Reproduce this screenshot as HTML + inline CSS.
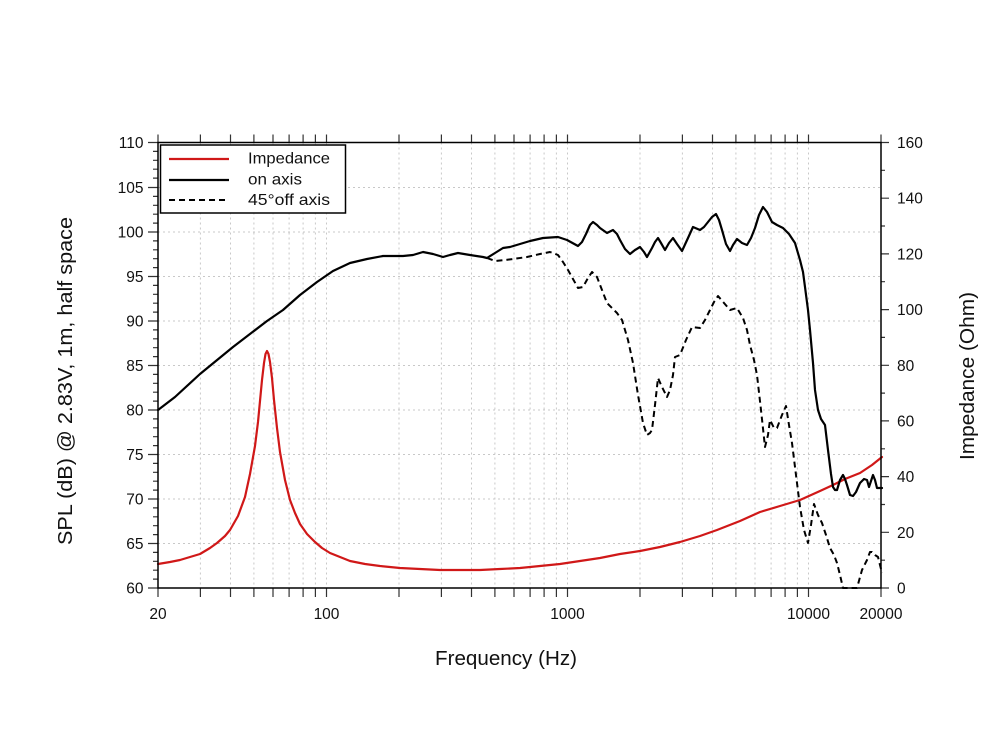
<!DOCTYPE html>
<html><head><meta charset="utf-8"><style>
html,body{margin:0;padding:0;background:#fff;}
svg{display:block;}
text{font-family:"Liberation Sans","DejaVu Sans",sans-serif;fill:#111;}
</style></head><body>
<svg width="1000" height="749" viewBox="0 0 1000 749" xmlns="http://www.w3.org/2000/svg">
<rect x="0" y="0" width="1000" height="749" fill="#fff"/>
<!-- grid -->
<g stroke="#c8c8c8" stroke-width="1" stroke-dasharray="2,3" fill="none">
<line x1="200.4" y1="142.5" x2="200.4" y2="588"/><line x1="230.5" y1="142.5" x2="230.5" y2="588"/>
<line x1="253.9" y1="142.5" x2="253.9" y2="588"/><line x1="273" y1="142.5" x2="273" y2="588"/>
<line x1="289.1" y1="142.5" x2="289.1" y2="588"/><line x1="303.1" y1="142.5" x2="303.1" y2="588"/>
<line x1="315.4" y1="142.5" x2="315.4" y2="588"/><line x1="326.5" y1="142.5" x2="326.5" y2="588"/>
<line x1="399" y1="142.5" x2="399" y2="588"/><line x1="441.4" y1="142.5" x2="441.4" y2="588"/>
<line x1="471.5" y1="142.5" x2="471.5" y2="588"/><line x1="494.9" y1="142.5" x2="494.9" y2="588"/>
<line x1="514" y1="142.5" x2="514" y2="588"/><line x1="530.1" y1="142.5" x2="530.1" y2="588"/>
<line x1="544.1" y1="142.5" x2="544.1" y2="588"/><line x1="556.4" y1="142.5" x2="556.4" y2="588"/>
<line x1="567.5" y1="142.5" x2="567.5" y2="588"/><line x1="640" y1="142.5" x2="640" y2="588"/>
<line x1="682.4" y1="142.5" x2="682.4" y2="588"/><line x1="712.5" y1="142.5" x2="712.5" y2="588"/>
<line x1="735.9" y1="142.5" x2="735.9" y2="588"/><line x1="755" y1="142.5" x2="755" y2="588"/>
<line x1="771.1" y1="142.5" x2="771.1" y2="588"/><line x1="785.1" y1="142.5" x2="785.1" y2="588"/>
<line x1="797.4" y1="142.5" x2="797.4" y2="588"/><line x1="808.5" y1="142.5" x2="808.5" y2="588"/>
<line x1="158" y1="543.5" x2="881" y2="543.5"/><line x1="158" y1="499" x2="881" y2="499"/>
<line x1="158" y1="454.5" x2="881" y2="454.5"/><line x1="158" y1="410" x2="881" y2="410"/>
<line x1="158" y1="365.5" x2="881" y2="365.5"/><line x1="158" y1="321" x2="881" y2="321"/>
<line x1="158" y1="276.5" x2="881" y2="276.5"/><line x1="158" y1="232" x2="881" y2="232"/>
<line x1="158" y1="187.5" x2="881" y2="187.5"/>
</g>
<!-- ticks -->
<g stroke="#333" stroke-width="1.2" fill="none">
<!-- bottom & top x ticks -->
<path d="M158 588v9M200.4 588v9M230.5 588v9M253.9 588v9M273 588v9M289.1 588v9M303.1 588v9M315.4 588v9M326.5 588v9M399 588v9M441.4 588v9M471.5 588v9M494.9 588v9M514 588v9M530.1 588v9M544.1 588v9M556.4 588v9M567.5 588v9M640 588v9M682.4 588v9M712.5 588v9M735.9 588v9M755 588v9M771.1 588v9M785.1 588v9M797.4 588v9M808.5 588v9M881 588v9"/>
<path d="M158 142.5v-8M200.4 142.5v-8M230.5 142.5v-8M253.9 142.5v-8M273 142.5v-8M289.1 142.5v-8M303.1 142.5v-8M315.4 142.5v-8M326.5 142.5v-8M399 142.5v-8M441.4 142.5v-8M471.5 142.5v-8M494.9 142.5v-8M514 142.5v-8M530.1 142.5v-8M544.1 142.5v-8M556.4 142.5v-8M567.5 142.5v-8M640 142.5v-8M682.4 142.5v-8M712.5 142.5v-8M735.9 142.5v-8M755 142.5v-8M771.1 142.5v-8M785.1 142.5v-8M797.4 142.5v-8M808.5 142.5v-8M881 142.5v-8"/>
<!-- left major -->
<path d="M148 142.5h10M148 187.5h10M148 232h10M148 276.5h10M148 321h10M148 365.5h10M148 410h10M148 454.5h10M148 499h10M148 543.5h10M148 588h10"/>
<!-- left minor every 1 dB -->
<path d="M153 151.4h5M153 160.3h5M153 169.2h5M153 178.1h5M153 196.4h5M153 205.3h5M153 214.2h5M153 223.1h5M153 240.9h5M153 249.8h5M153 258.7h5M153 267.6h5M153 285.4h5M153 294.3h5M153 303.2h5M153 312.1h5M153 329.9h5M153 338.8h5M153 347.7h5M153 356.6h5M153 374.4h5M153 383.3h5M153 392.2h5M153 401.1h5M153 418.9h5M153 427.8h5M153 436.7h5M153 445.6h5M153 463.4h5M153 472.3h5M153 481.2h5M153 490.1h5M153 507.9h5M153 516.8h5M153 525.7h5M153 534.6h5M153 552.4h5M153 561.3h5M153 570.2h5M153 579.1h5"/>
<!-- right major & minor -->
<path d="M881 588h8M881 532.3h8M881 476.6h8M881 420.9h8M881 365.3h8M881 309.6h8M881 253.9h8M881 198.2h8M881 142.5h8"/>
<path d="M881 560.2h4M881 504.5h4M881 448.8h4M881 393.1h4M881 337.4h4M881 281.7h4M881 226h4M881 170.3h4"/>
</g>
<!-- curves -->
<g fill="none" stroke-linejoin="round" stroke-linecap="round">
<polyline stroke="#d01818" stroke-width="2.2" points="158,564 170,562 180,560 190,557 200,554 210,548 217,543 225,536 230,530 238,516 245,497 250,474 255,446 258,422 260,401 262,380 264,363 265.5,354 267,351 268.5,354 270,362 272,378 274,400 277,428 280,452 285,480 290,500 295,513 300,524 307,534 315,542 322,548 330,553 340,557 350,561 365,564 380,566 400,568 420,569 440,570 460,570 480,570 500,569 520,568 540,566 560,564 580,561 600,558 620,554 640,551 660,547 680,542 700,536 717,530 740,521 760,512 780,506 800,500 820,491 833,485 845,479 860,473 872,465 882,457"/>
<polyline stroke="#000" stroke-width="2.2" points="158,410 175,397 200,374 233,347 267,321 283,310 300,295 317,282 333,271 350,263 367,259 383,256 403,256 413,255 423,252 433,254 443,257 450,255 458,253 470,255 483,257 487,258 495,253 503,248 510,247 520,244 530,241 543,238 558,237 567,240 578,246 582,242 586,234 590,225 593,222 597,225 600,228 607,233 613,230 617,234 620,240 625,249 630,254 635,250 640,247 644,252 647,257 652,248 655,242 658,238 661,243 665,250 669,243 673,238 677,244 682,251 688,238 693,227 700,230 704,227 708,222 712,217 716,214 719,220 722,230 726,244 730,251 733,245 737,239 742,243 747,245 751,238 755,228 759,215 763,207 767,212 772,222 777,225 783,228 789,234 795,243 800,260 803,272 805,287 808,310 810,330 813,363 815,390 818,410 821,419 825,425 828,450 831,474 833,487 835,490 837,490 840,480 843,475 845,479 847,485 850,495 853,496 856,492 860,483 864,479 867,480 869,487 871,481 873,475 875,480 877,488 882,488"/>
<polyline stroke="#000" stroke-width="2" stroke-dasharray="6,4" stroke-linecap="butt" points="487,258 495,261 505,260 513,259 527,257 540,254 550,252 558,255 563,262 568,270 573,279 578,288 583,287 588,278 592,272 597,277 602,290 607,303 612,308 617,313 622,320 628,340 633,363 638,395 643,423 647,435 650,433 652,430 655,405 658,378 662,387 667,397 670,390 673,375 675,357 680,355 686,340 692,327 700,328 705,320 710,310 714,302 718,296 724,303 730,310 737,308 743,318 747,330 750,345 754,360 757,375 761,410 765,447 768,435 770,420 774,428 777,428 782,415 786,406 789,425 792,443 796,475 800,507 804,530 808,543 811,525 814,504 818,515 822,523 826,535 830,548 834,555 837,563 840,575 843,588 857,588 862,570 867,560 870,552 872,552 875,555 878,557 880,565 882,573"/>
</g>
<!-- frame -->
<rect x="158" y="142.5" width="723" height="445.5" fill="none" stroke="#000" stroke-width="1.5"/>
<!-- legend -->
<rect x="160.5" y="145" width="185" height="68" fill="#fff" stroke="#000" stroke-width="1.5"/>
<line x1="169" y1="159" x2="229" y2="159" stroke="#d01818" stroke-width="2.2"/>
<line x1="169" y1="180" x2="229" y2="180" stroke="#000" stroke-width="2.2"/>
<line x1="169" y1="200" x2="229" y2="200" stroke="#000" stroke-width="2" stroke-dasharray="6,4"/>
<text x="248" y="163.5" font-size="16" textLength="82" lengthAdjust="spacingAndGlyphs">Impedance</text>
<text x="248" y="184.5" font-size="16" textLength="54" lengthAdjust="spacingAndGlyphs">on axis</text>
<text x="248" y="205" font-size="16" textLength="82" lengthAdjust="spacingAndGlyphs">45°off axis</text>
<!-- left tick labels -->
<g font-size="15.5" text-anchor="end">
<text x="143.5" y="148">110</text><text x="143.5" y="193">105</text><text x="143.5" y="237.5">100</text>
<text x="143.5" y="282">95</text><text x="143.5" y="326.5">90</text><text x="143.5" y="371">85</text>
<text x="143.5" y="415.5">80</text><text x="143.5" y="460">75</text><text x="143.5" y="504.5">70</text>
<text x="143.5" y="549">65</text><text x="143.5" y="593.5">60</text>
</g>
<!-- right tick labels -->
<g font-size="15.5" text-anchor="start">
<text x="897" y="593.5">0</text><text x="897" y="537.8">20</text><text x="897" y="482.1">40</text>
<text x="897" y="426.4">60</text><text x="897" y="370.8">80</text><text x="897" y="315.1">100</text>
<text x="897" y="259.4">120</text><text x="897" y="203.7">140</text><text x="897" y="148">160</text>
</g>
<!-- bottom tick labels -->
<g font-size="15.5" text-anchor="middle">
<text x="158" y="619">20</text><text x="326.5" y="619">100</text><text x="567.5" y="619">1000</text>
<text x="808.5" y="619">10000</text><text x="881" y="619">20000</text>
</g>
<!-- axis titles -->
<text x="506" y="665" font-size="20" text-anchor="middle" textLength="142" lengthAdjust="spacingAndGlyphs">Frequency (Hz)</text>
<text transform="translate(72,381) rotate(-90)" font-size="20" text-anchor="middle" textLength="328" lengthAdjust="spacingAndGlyphs">SPL (dB) @ 2.83V, 1m, half space</text>
<text transform="translate(974,376) rotate(-90)" font-size="20" text-anchor="middle" textLength="168" lengthAdjust="spacingAndGlyphs">Impedance (Ohm)</text>
</svg>
</body></html>
